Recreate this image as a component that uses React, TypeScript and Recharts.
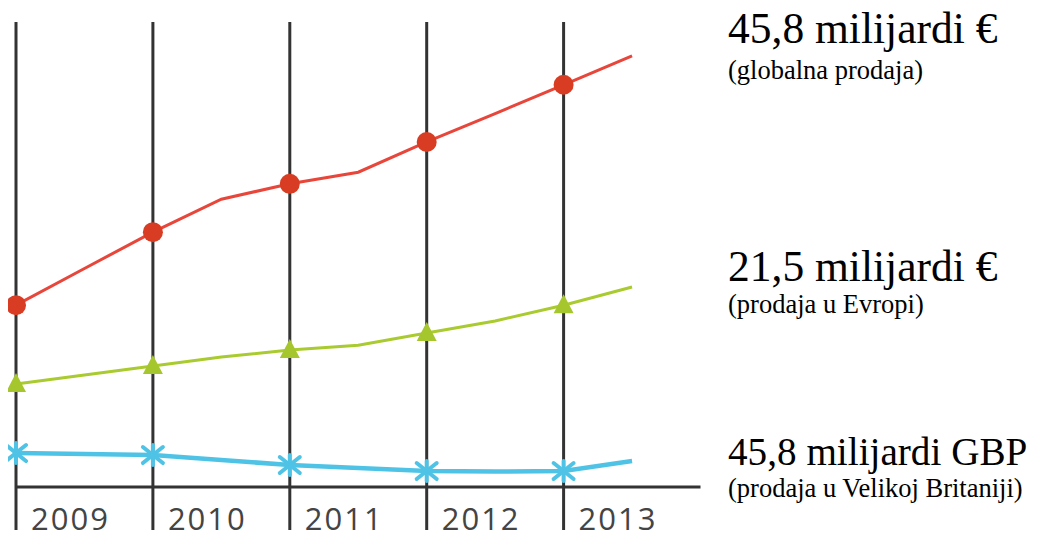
import React from "react";
import { LineChart, Line, XAxis, YAxis, CartesianGrid } from "recharts";

const years = [2009, 2009.5, 2010, 2010.5, 2011, 2011.5, 2012, 2012.5, 2013, 2013.5];
const tickYears = [2009, 2010, 2011, 2012, 2013];
const globalSales = [39.1, 47.0, 54.8, 61.9, 65.2, 67.7, 74.2, 80.3, 86.5, 92.7];
const europeSales = [22.15, 24.1, 26.0, 27.96, 29.46, 30.5, 33.1, 35.7, 39.1, 43.0];
const ukSales = [7.31, 7.1, 6.88, 5.81, 4.73, 4.09, 3.44, 3.33, 3.44, 5.59];

const titles = [
  { main: "45,8 milijardi €", sub: "(globalna prodaja)", size: 43.5 },
  { main: "21,5 milijardi €", sub: "(prodaja u Evropi)", size: 43.5 },
  { main: "45,8 milijardi GBP", sub: "(prodaja u Velikoj Britaniji)", size: 39.2 },
];

const data = years.map((x, i) => ({
  x,
  global: globalSales[i],
  europe: europeSales[i],
  uk: ukSales[i],
}));

const isYear = (p: any) => p && p.payload && Number.isInteger(p.payload.x);

const RedDot = (p: any) => {
  if (!isYear(p)) return <g key={`r${p.index}`} />;
  return <circle key={`r${p.index}`} cx={p.cx} cy={p.cy} r={10} fill="#d83c22" />;
};

const GreenDot = (p: any) => {
  if (!isYear(p)) return <g key={`g${p.index}`} />;
  const { cx, cy } = p;
  return (
    <polygon
      key={`g${p.index}`}
      points={`${cx},${cy - 11} ${cx - 10},${cy + 8} ${cx + 10},${cy + 8}`}
      fill="#a6c62e"
    />
  );
};

const BlueDot = (p: any) => {
  if (!isYear(p)) return <g key={`b${p.index}`} />;
  const { cx, cy } = p;
  return (
    <g key={`b${p.index}`} stroke="#4fc3e5" strokeWidth={4} strokeLinecap="round">
      <line x1={cx - 10} y1={cy - 8} x2={cx + 10} y2={cy + 8} />
      <line x1={cx - 10} y1={cy + 8} x2={cx + 10} y2={cy - 8} />
      <line x1={cx} y1={cy - 10} x2={cx} y2={cy + 10} />
    </g>
  );
};

const YearTick = (p: any) => {
  const { x, y, payload } = p;
  return (
    <g>
      <line x1={x} y1={y} x2={x} y2={y + 43} stroke="#333" strokeWidth={3} />
      <text
        x={x + 15}
        y={y + 43}
        textAnchor="start"
        fontFamily="'Open Sans', sans-serif"
        fontSize={31}
        letterSpacing={2}
        fill="#444"
      >
        {payload.value}
      </text>
    </g>
  );
};

// baselines in page coordinates
const titleBaselines = [
  [43, 79],
  [281, 313],
  [465, 497],
];

export default function App() {
  return (
    <div style={{ position: "relative", width: 1030, height: 531 }}>
      <LineChart
        width={1030}
        height={531}
        data={data}
        margin={{ top: 14, right: 337.5, bottom: 0, left: 8 }}
      >
        <CartesianGrid
          horizontal={false}
          vertical={true}
          syncWithTicks={true}
          stroke="#333"
          strokeWidth={3}
        />
        <XAxis
          dataKey="x"
          type="number"
          domain={[2009, 2014]}
          ticks={tickYears}
          height={52}
          axisLine={{ stroke: "#333", strokeWidth: 3 }}
          tickLine={false}
          tickSize={0}
          tickMargin={0}
          tick={<YearTick />}
          interval={0}
        />
        <YAxis hide domain={[0, 100]} />
        <Line
          dataKey="global"
          type="linear"
          stroke="#e8463a"
          strokeWidth={3}
          dot={RedDot}
          activeDot={false}
          isAnimationActive={false}
        />
        <Line
          dataKey="europe"
          type="linear"
          stroke="#a9cb2f"
          strokeWidth={3}
          dot={GreenDot}
          activeDot={false}
          isAnimationActive={false}
        />
        <Line
          dataKey="uk"
          type="linear"
          stroke="#4fc3e5"
          strokeWidth={4.5}
          dot={BlueDot}
          activeDot={false}
          isAnimationActive={false}
        />
      </LineChart>
      <svg
        width={1038}
        height={539}
        style={{ position: "absolute", left: -8, top: -8, pointerEvents: "none" }}
      >
        {titles.map((t, i) => (
          <g key={i} fontFamily="'Liberation Serif', 'Times New Roman', serif" fill="#000">
            <text x={728} y={titleBaselines[i][0]} fontSize={t.size}>
              {t.main}
            </text>
            <text x={728} y={titleBaselines[i][1]} fontSize={26.5}>
              {t.sub}
            </text>
          </g>
        ))}
      </svg>
    </div>
  );
}
